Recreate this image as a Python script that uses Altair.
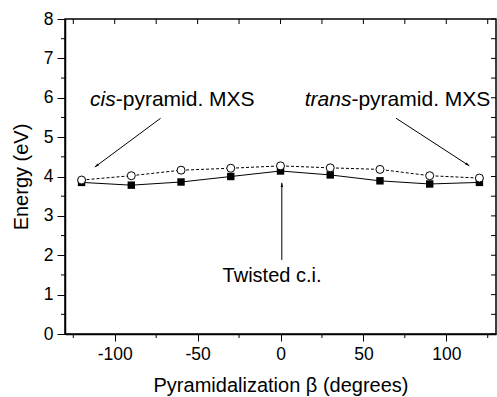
import altair as alt
import pandas as pd

beta = [-120, -90, -60, -30, 0, 30, 60, 90, 120]
open_circles = [3.91, 4.02, 4.16, 4.21, 4.27, 4.22, 4.18, 4.02, 3.96]
filled_squares = [3.85, 3.78, 3.86, 4.00, 4.14, 4.04, 3.89, 3.81, 3.85]

x_major = [-100, -50, 0, 50, 100]
x_minor = [-125, -75, -25, 25, 75, 125]
x_all = [-125, -100, -75, -50, -25, 0, 25, 50, 75, 100, 125]
y_major = [0, 1, 2, 3, 4, 5, 6, 7, 8]
y_minor = [0.5, 1.5, 2.5, 3.5, 4.5, 5.5, 6.5, 7.5]
y_all = [i * 0.5 for i in range(17)]

W, H = 431, 315
FONT = "Liberation Sans"

df = pd.DataFrame({"beta": beta, "open": open_circles, "filled": filled_squares})

xs = alt.Scale(domain=[-130, 130], nice=False, zero=False)
ys = alt.Scale(domain=[0, 8], nice=False)

xaxis = alt.Axis(values=x_major, tickCount=5, labelExpr="toString(datum.value)",
                 tickSize=7, tickColor="black", domainColor="black", domainWidth=1.5,
                 labelFont=FONT, labelFontSize=17.5, labelColor="black", labelPadding=4,
                 labelOverlap=False,
                 title="Pyramidalization β (degrees)", titleFont=FONT, titleFontSize=20,
                 titleFontWeight="normal", titleColor="black", titlePadding=13, grid=False,
                 labelFlush=False)
yaxis = alt.Axis(values=y_major, tickCount=9, labelExpr="toString(datum.value)",
                 tickSize=8, tickColor="black", domainColor="black", domainWidth=1.5,
                 labelFont=FONT, labelFontSize=17.5, labelColor="black", labelPadding=4,
                 labelOverlap=False,
                 title="Energy (eV)", titleFont=FONT, titleFontSize=20,
                 titleFontWeight="normal", titleColor="black", titlePadding=12, grid=False,
                 labelFlush=False)


def X(f):
    return alt.X(f, scale=xs, axis=xaxis)


def Y(f):
    return alt.Y(f, scale=ys, axis=yaxis)


base = alt.Chart(df)

line_f = base.mark_line(color="black", strokeWidth=1).encode(x=X("beta:Q"), y=Y("filled:Q"))
line_o = base.mark_line(color="black", strokeWidth=1, strokeDash=[3, 2]).encode(
    x=X("beta:Q"), y=Y("open:Q"))
pts_f = base.mark_point(shape="square", filled=True, color="black", size=55, opacity=1).encode(
    x=X("beta:Q"), y=Y("filled:Q"))
pts_o = base.mark_point(shape="circle", filled=True, fill="white", stroke="black",
                        strokeWidth=1, size=64, opacity=1).encode(x=X("beta:Q"), y=Y("open:Q"))

# extra ticks: minor outward on bottom/left, inward on top/right
bot_minor = alt.Chart(pd.DataFrame({"t": x_minor})).mark_rule(color="black", strokeWidth=1).encode(
    x=X("t:Q"), y=alt.value(H), y2=alt.value(H + 4))
left_minor = alt.Chart(pd.DataFrame({"t": y_minor})).mark_rule(color="black", strokeWidth=1).encode(
    y=Y("t:Q"), x=alt.value(-4), x2=alt.value(0))
top_ticks = alt.Chart(pd.DataFrame({"t": x_all})).mark_rule(color="black", strokeWidth=1).encode(
    x=X("t:Q"), y=alt.value(0), y2=alt.value(5))
right_ticks = alt.Chart(pd.DataFrame({"t": y_all})).mark_rule(color="black", strokeWidth=1).encode(
    y=Y("t:Q"), x=alt.value(W - 5), x2=alt.value(W))

# annotations
arrows = pd.DataFrame({
    "id": ["cis", "cis", "trans", "trans", "tw", "tw"],
    "x": [-72.3, -112.0, 69.7, 113.9, 0.8, 0.8],
    "y": [5.48, 4.24, 5.48, 4.27, 1.88, 3.84],
    "o": [0, 1, 0, 1, 0, 1],
})
heads = pd.DataFrame({"x": [-112.0, 113.9, 0.8], "y": [4.24, 4.27, 3.84], "ang": [233.4, 123.3, 0]})

arrow_lines = alt.Chart(arrows).mark_line(color="black", strokeWidth=1).encode(
    x=X("x:Q"), y=Y("y:Q"), detail="id:N", order="o:Q")
arrow_heads = alt.Chart(heads).mark_point(shape="M0,0L-0.3,1L0.3,1Z", filled=True, color="black",
                                          size=70, opacity=1).encode(
    x=X("x:Q"), y=Y("y:Q"), angle=alt.Angle("ang:Q", scale=None))

lab_it = pd.DataFrame({"x": [-99.4, 42.8], "y": [5.79, 5.79], "t": ["cis", "trans"]})
lab_rest = pd.DataFrame({"x": [-99.4, 42.8], "y": [5.79, 5.79], "t": ["-pyramid. MXS", "-pyramid. MXS"]})
lab_tw = pd.DataFrame({"x": [-5.1], "y": [1.33], "t": ["Twisted c.i."]})

TS = 21
t_it = alt.Chart(lab_it).mark_text(font=FONT, fontSize=TS, fontStyle="italic", align="right",
                                   baseline="alphabetic", color="black").encode(
    x=X("x:Q"), y=Y("y:Q"), text="t:N")
t_rest = alt.Chart(lab_rest).mark_text(font=FONT, fontSize=TS, align="left",
                                       baseline="alphabetic", color="black").encode(
    x=X("x:Q"), y=Y("y:Q"), text="t:N")
t_tw = alt.Chart(lab_tw).mark_text(font=FONT, fontSize=20, align="center",
                                   baseline="alphabetic", color="black").encode(
    x=X("x:Q"), y=Y("y:Q"), text="t:N")

chart = alt.layer(
    line_f, line_o, pts_f, pts_o, bot_minor, left_minor, top_ticks, right_ticks,
    arrow_lines, arrow_heads, t_it, t_rest, t_tw
).properties(
    width=W, height=H,
    padding={"left": 65, "top": 19, "right": 1, "bottom": 63},
    autosize=alt.AutoSizeParams(type="none"),
    background="white",
).configure_view(stroke="black", strokeWidth=1.5).configure_axis(labelOverlap=False)

chart.save("out.html", embed_options={"renderer": "svg", "actions": False})
